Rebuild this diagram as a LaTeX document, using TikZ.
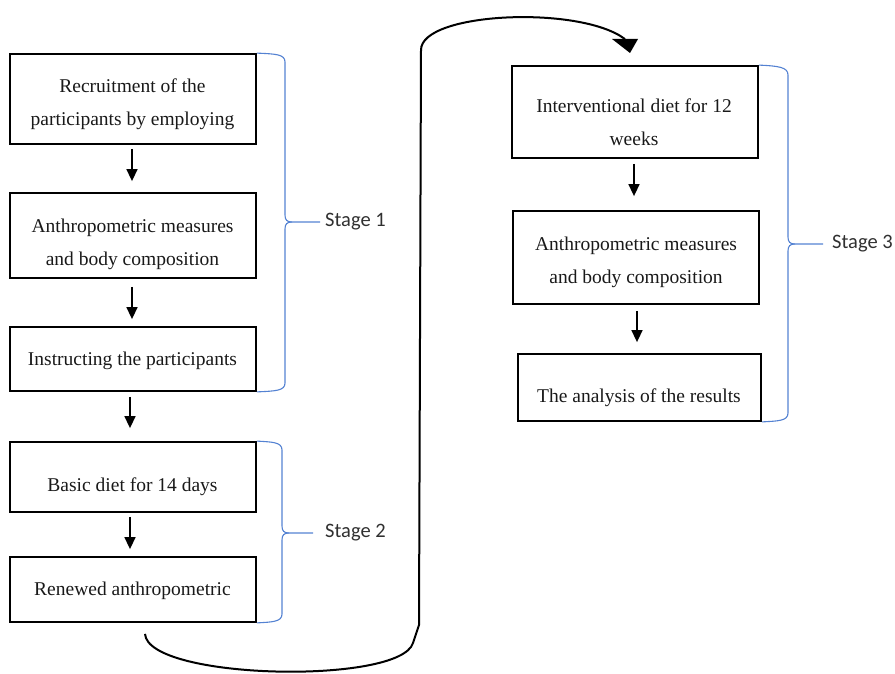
\documentclass[tikz,border=0pt]{standalone}
\usepackage{fontspec}
\setmainfont{Liberation Serif}
\newfontfamily\stagefont{Carlito}
\usetikzlibrary{arrows.meta}
\definecolor{bracecol}{RGB}{84,130,210}
\definecolor{inkcol}{RGB}{25,25,25}
\begin{document}
\begin{tikzpicture}[x=1pt,y=-1pt,
  box/.style={draw=black,line width=1.8pt,minimum width=246pt,inner sep=0pt},
  txt/.style={text=inkcol,align=center,inner sep=0pt,font=\fontsize{19.5}{33}\selectfont},
  arr/.style={draw=black,line width=1.5pt,-{Triangle[length=12pt,width=11pt]}},
  brc/.style={draw=bracecol,line width=1.1pt},
  stg/.style={text=inkcol!90,anchor=west,inner sep=0pt,font=\stagefont\fontsize{20.5}{24}\selectfont},
  flow/.style={draw=black,line width=2pt}]
\useasboundingbox (0,0) rectangle (895,674);
% left column
\node[box,minimum height=90pt] (b1) at (133,99) {};
\node[box,minimum height=85pt] (b2) at (133,235.5) {};
\node[box,minimum height=64pt] (b3) at (133,359) {};
\node[box,minimum height=70pt] (b4) at (133,477) {};
\node[box,minimum height=65pt] (b5) at (133,589.5) {};
% right column
\node[box,minimum height=92pt] (b6) at (635,112) {};
\node[box,minimum height=93pt] (b7) at (636,257.5) {};
\node[box,minimum height=67pt,minimum width=243pt] (b8) at (639.5,387.5) {};
% texts
\node[txt] (t1) at (132.5,104.5) {Recruitment of the\\participants by employing};
\node[txt] (t2) at (132.5,244) {Anthropometric measures\\and body composition};
\node[txt] (t3) at (132.5,360.5) {Instructing the participants};
\node[txt] (t4) at (132.5,486.5) {Basic diet for 14 days};
\node[txt] (t5) at (132.5,590.5) {Renewed anthropometric};
\node[txt] (t6) at (634,122) {Interventional diet for 12\\weeks};
\node[txt] (t7) at (636,262) {Anthropometric measures\\and body composition};
\node[txt] (t8) at (639,397.5) {The analysis of the results};
% arrows
\draw[arr] ([xshift=-1pt,yshift=-4pt]b1.south) -- ([xshift=-1pt,yshift=11pt]b2.north);
\draw[arr] ([xshift=-1pt,yshift=-8pt]b2.south) -- ([xshift=-1pt,yshift=7pt]b3.north);
\draw[arr] ([xshift=-3pt,yshift=-5pt]b3.south) -- ([xshift=-3pt,yshift=13pt]b4.north);
\draw[arr] ([xshift=-3pt,yshift=-4pt]b4.south) -- ([xshift=-3pt,yshift=7pt]b5.north);
\draw[arr] ([xshift=-1pt,yshift=-5pt]b6.south) -- ([xshift=-2pt,yshift=14pt]b7.north);
\draw[arr] ([xshift=1pt,yshift=-6pt]b7.south) -- ([xshift=-2.5pt,yshift=11pt]b8.north);
% braces
\coordinate (s1top) at (b1.north east);
\coordinate (s1bot) at (b3.south east);
\draw[brc] (s1top) .. controls (275,54) and (285,54) .. (285,62) -- (285,215)
  .. controls (285,220) and (287,222) .. (292,222) -- (320,222);
\draw[brc] (292,222) .. controls (287,222) and (285,224) .. (285,229) -- (285,383)
  .. controls (285,391) and (275,391) .. (s1bot);
\node[stg] (st1) at (325,222) {Stage 1};
\coordinate (s2top) at (b4.north east);
\coordinate (s2bot) at (b5.south east);
\draw[brc] (s2top) .. controls (272,442) and (282,442) .. (282,450) -- (282,526)
  .. controls (282,531) and (284,533) .. (289,533) -- (313,533);
\draw[brc] (289,533) .. controls (284,533) and (282,535) .. (282,540) -- (282,614)
  .. controls (282,622) and (272,622) .. (s2bot);
\node[stg] (st2) at (325,533) {Stage 2};
\coordinate (s3top) at (b6.north east);
\coordinate (s3bot) at (b8.south east);
\draw[brc] (s3top) .. controls (778,66) and (788,67) .. (788,75) -- (788,237)
  .. controls (788,242) and (790,244) .. (795,244) -- (823,244);
\draw[brc] (795,244) .. controls (790,244) and (788,246) .. (788,251) -- (788,413)
  .. controls (788,421) and (778,421) .. (s3bot);
\node[stg] (st3) at (832,244) {Stage 3};
% big connector from stage 2 to stage 3
\coordinate (cstart) at ([xshift=12pt,yshift=-11pt]b5.south);
\coordinate (cend) at ([xshift=-10pt,yshift=26pt]b6.north);
\draw[flow] (cstart) .. controls (148,680) and (400,685) .. (413,643) -- (419,625) -- (421,50)
  .. controls (421,12) and (580,5) .. (cend);
\fill[black] (612,39) -- (638,39) -- (630,53) -- cycle;
\end{tikzpicture}
\end{document}
